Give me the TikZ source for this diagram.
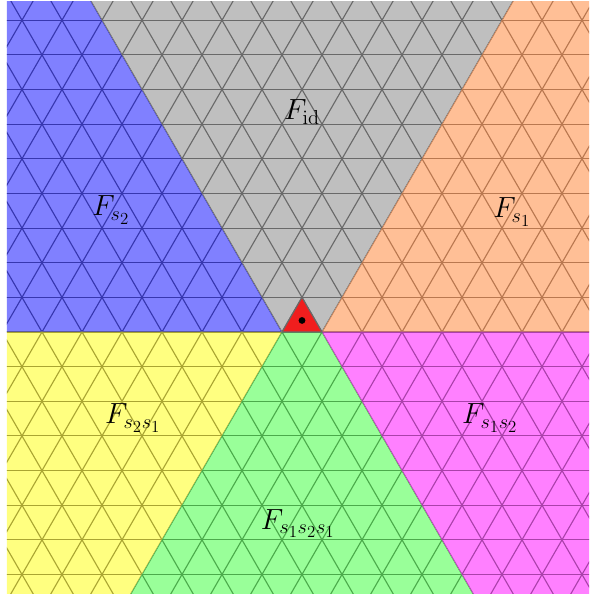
\documentclass[tikz,border=0pt]{standalone}
\usepackage{tikz}
\usetikzlibrary{calc}

\definecolor{chblue}{RGB}{128,128,255}
\definecolor{chgray}{RGB}{191,191,191}
\definecolor{chorange}{RGB}{255,191,150}
\definecolor{chyellow}{RGB}{255,255,128}
\definecolor{chgreen}{RGB}{153,255,153}
\definecolor{chmagenta}{RGB}{255,128,255}
\definecolor{chred}{RGB}{240,30,30}
% lattice lines in each chamber
\definecolor{lnblue}{RGB}{55,55,175}
\definecolor{lngray}{RGB}{105,105,105}
\definecolor{lnorange}{RGB}{185,120,80}
\definecolor{lnyellow}{RGB}{170,165,50}
\definecolor{lngreen}{RGB}{75,170,75}
\definecolor{lnmagenta}{RGB}{170,65,170}

\def\h{0.8660254}
% all lines of the triangular lattice
\newcommand{\trilattice}[1]{%
  \foreach \k in {-9,...,10}
    \draw[gridline=#1] (-8,\k*\h) -- (9,\k*\h);
  \foreach \n in {-14,...,14} {
    \draw[gridline=#1] ($(\n,0)+(240:20)$) -- ($(\n,0)+(60:20)$);
    \draw[gridline=#1] ($(\n,0)+(300:20)$) -- ($(\n,0)+(120:20)$);
  }}

\begin{document}
\begin{tikzpicture}[
  gridline/.style={draw=#1, line width=0.8pt},
  lbl/.style={font=\huge, inner sep=1pt},
  basept/.style={circle, fill=black, inner sep=0pt, minimum size=0.17cm},
]
\useasboundingbox (-7.05,-6.575) rectangle (7.675,8.3);

\begin{scope}
\clip (-6.875,-6.525) rectangle (7.675,8.25);

% chambers
\begin{scope}
  \clip (0,0) -- (120:30) -- (180:30) -- cycle;
  \fill[chblue] (-8,-8) rectangle (9,9);
  \trilattice{lnblue}
\end{scope}
\begin{scope}
  \clip (0,0) -- (1,0) -- ($(1,0)+(60:30)$) -- (120:30) -- cycle;
  \fill[chgray] (-8,-8) rectangle (9,9);
  \trilattice{lngray}
\end{scope}
\begin{scope}
  \clip (1,0) -- (31,0) -- ($(1,0)+(60:30)$) -- cycle;
  \fill[chorange] (-8,-8) rectangle (9,9);
  \trilattice{lnorange}
\end{scope}
\begin{scope}
  \clip (0,0) -- (180:30) -- (240:30) -- cycle;
  \fill[chyellow] (-8,-8) rectangle (9,9);
  \trilattice{lnyellow}
\end{scope}
\begin{scope}
  \clip (0,0) -- (1,0) -- ($(1,0)+(300:30)$) -- (240:30) -- cycle;
  \fill[chgreen] (-8,-8) rectangle (9,9);
  \trilattice{lngreen}
\end{scope}
\begin{scope}
  \clip (1,0) -- (31,0) -- ($(1,0)+(300:30)$) -- cycle;
  \fill[chmagenta] (-8,-8) rectangle (9,9);
  \trilattice{lnmagenta}
\end{scope}

% fundamental alcove
\fill[chred] (0,0) -- (1,0) -- (60:1) -- cycle;
\draw[gridline=lngray] (0,0) -- (1,0) -- (60:1) -- cycle;
\end{scope}

\node[basept] (base) at (0.5,\h/3) {};

\node[lbl] (fid)     at (0.5,5.5)     {$F_{\mathrm{id}}$};
\node[lbl] (fs2)     at (-4.275,3.05) {$F_{s_2}$};
\node[lbl] (fs1)     at (5.75,3.0)    {$F_{s_1}$};
\node[lbl] (fs2s1)   at (-3.725,-2.15) {$F_{s_2s_1}$};
\node[lbl] (fs1s2)   at (5.2,-2.15)   {$F_{s_1s_2}$};
\node[lbl] (fs1s2s1) at (0.4,-4.78)   {$F_{s_1s_2s_1}$};
\end{tikzpicture}
\end{document}
